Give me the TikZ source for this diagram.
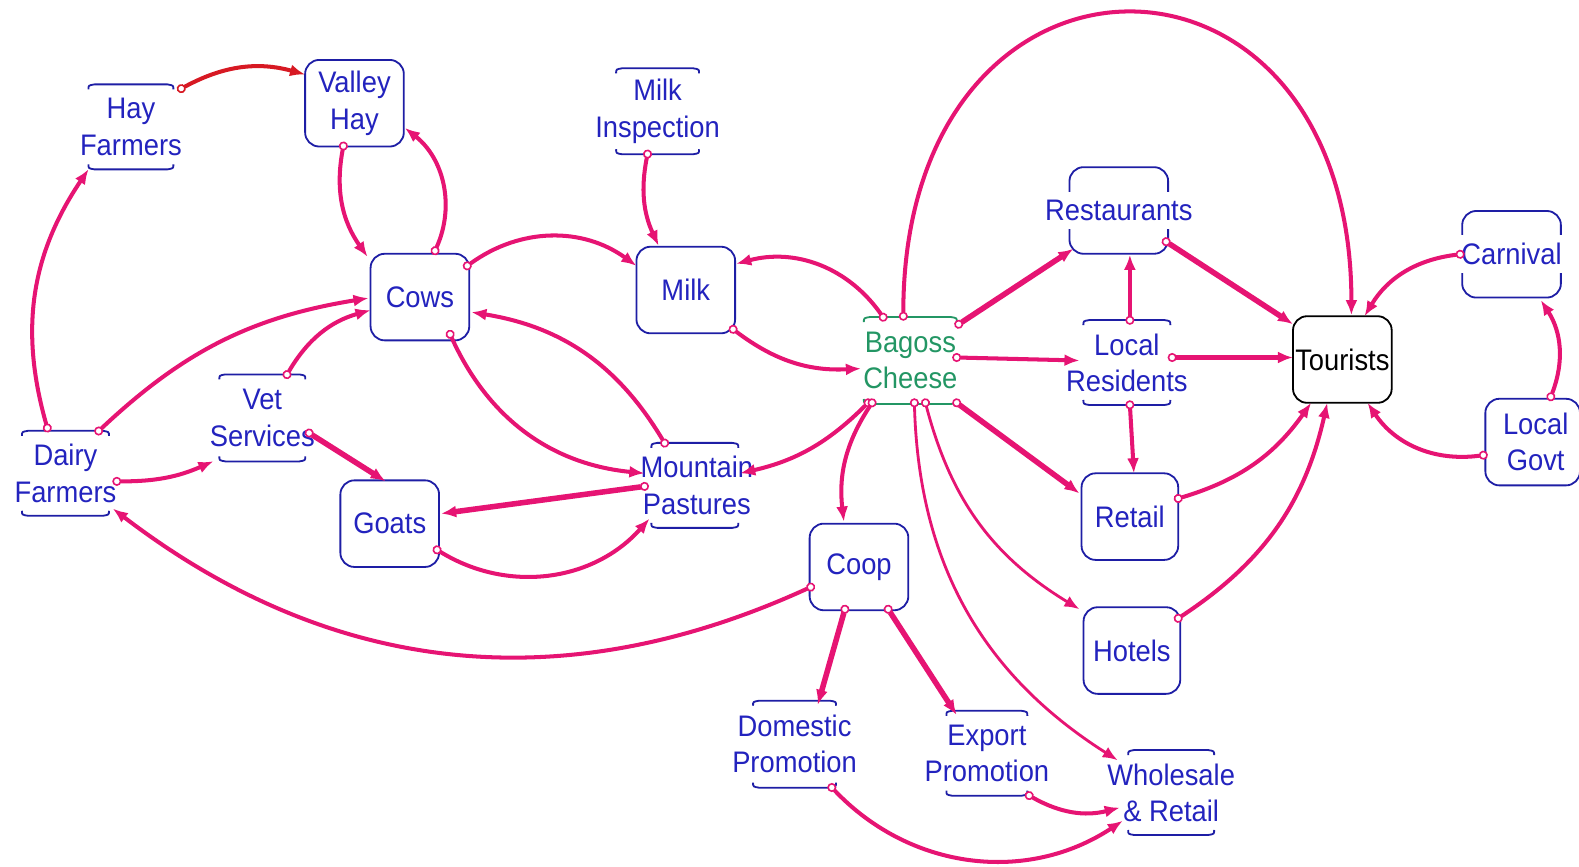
\documentclass[tikz,border=0pt]{standalone}
\usepackage{fontspec}
\setmainfont{Liberation Sans}[FakeStretch=0.92]
\usetikzlibrary{arrows.meta,calc}
\definecolor{nodeblue}{RGB}{30,30,165}
\definecolor{txtblue}{RGB}{35,35,190}
\definecolor{cheesegreen}{RGB}{35,150,100}
\definecolor{linkc}{RGB}{230,20,115}
\definecolor{linkred}{RGB}{215,25,35}
\newcommand\auxbrackets[2]{%
  \draw[#2, line width=1.8pt]
    ($(#1.north west)+(0,5)$) .. controls ($(#1.north west)+(0,1)$) .. ($(#1.north west)+(6,0)$)
    -- ($(#1.north east)+(-6,0)$) .. controls ($(#1.north east)+(0,1)$) .. ($(#1.north east)+(0,5)$);
  \draw[#2, line width=1.8pt]
    ($(#1.south west)+(0,-5)$) .. controls ($(#1.south west)+(0,-1)$) .. ($(#1.south west)+(6,0)$)
    -- ($(#1.south east)+(-6,0)$) .. controls ($(#1.south east)+(0,-1)$) .. ($(#1.south east)+(0,-5)$);
}
\tikzset{
  lbl/.style={font=\fontsize{29.5}{36}\selectfont, align=center, inner sep=0pt, text=txtblue},
  blank/.style={fill=white, inner xsep=1pt, inner ysep=8pt},
  stock/.style={draw=nodeblue, line width=1.8pt, rounded corners=14pt, minimum width=98pt, minimum height=86pt, inner sep=0pt},
  aux/.style={minimum width=86pt, minimum height=84pt, inner sep=0pt},
  conn/.style={draw=linkc, line width=4pt, shorten <=-4.5pt,
    {Circle[fill=white,length=9pt,width=9pt,line width=1.6pt]}-{Latex[length=15pt,width=12pt]}},
  heavy/.style={line width=5.5pt},
  light/.style={line width=2.8pt},
}
\begin{document}
\begin{tikzpicture}[x=1pt,y=-1pt]
\useasboundingbox (0,0) rectangle (1568,860);
% ---- nodes ----
\node[aux, minimum width=84pt] (hayf) at (130,126) {};
\node[stock] (vhay) at (352,102.5) {};
\node[aux, minimum width=82pt, minimum height=85pt] (milki) at (653,110.5) {};
\node[stock] (cows) at (417,295) {};
\node[stock] (milk) at (681,288) {};
\node[aux, minimum width=85pt, minimum height=86pt] (vet) at (260.5,415) {};
\node[aux] (dairy) at (65,470) {};
\node[stock] (goats) at (387,520) {};
\node[aux, minimum width=86pt] (mount) at (690,482) {};
\node[aux, minimum width=92pt, minimum height=86pt] (bc) at (904,358) {};
\node[stock] (coop) at (853,563) {};
\node[stock] (rest) at (1111,209) {};
\node[aux] (locr) at (1119,360) {};
\node[stock, minimum width=96pt] (retail) at (1122,513) {};
\node[stock, minimum width=96pt] (hotels) at (1124,646) {};
\node[stock, draw=black] (tour) at (1333,357) {};
\node[stock] (carn) at (1501,252.5) {};
\node[stock, minimum width=94pt] (govt) at (1522,439) {};
\node[aux, minimum width=82pt, minimum height=86pt] (domp) at (789,739) {};
\node[aux, minimum width=80pt] (expp) at (980,748) {};
\node[aux, minimum width=85pt] (whr) at (1163,787) {};
% brackets of auxiliaries
\auxbrackets{hayf}{nodeblue}
\auxbrackets{milki}{nodeblue}
\auxbrackets{vet}{nodeblue}
\auxbrackets{dairy}{nodeblue}
\auxbrackets{mount}{nodeblue}
\auxbrackets{bc}{cheesegreen}
\auxbrackets{locr}{nodeblue}
\auxbrackets{domp}{nodeblue}
\auxbrackets{expp}{nodeblue}
\auxbrackets{whr}{nodeblue}
% ---- texts ----
\node[lbl] (hayf-t) at (hayf) {Hay\\Farmers};
\node[lbl, blank] (vhay-t) at (vhay) {Valley\\Hay};
\node[lbl] (milki-t) at (milki) {Milk\\Inspection};
\node[lbl, blank] (cows-t) at (cows) {Cows};
\node[lbl, blank] (milk-t) at (milk) {Milk};
\node[lbl] (vet-t) at (vet) {Vet\\Services};
\node[lbl] (dairy-t) at (dairy) {Dairy\\Farmers};
\node[lbl, blank] (goats-t) at (goats) {Goats};
\node[lbl] (mount-t) at (692,482) {Mountain\\Pastures};
\node[lbl, text=cheesegreen] (bc-t) at (bc) {Bagoss\\Cheese};
\node[lbl, blank] (coop-t) at (coop) {Coop};
\node[lbl, blank] (rest-t) at (rest) {Restaurants};
\node[lbl] (locr-t) at (locr) {Local\\Residents};
\node[lbl, blank] (retail-t) at (retail) {Retail};
\node[lbl, blank] (hotels-t) at (hotels) {Hotels};
\node[lbl, blank, text=black] (tour-t) at (tour) {Tourists};
\node[lbl, blank] (carn-t) at (carn) {Carnival};
\node[lbl, blank] (govt-t) at (1525,439) {Local\\Govt};
\node[lbl] (domp-t) at (domp) {Domestic\\Promotion};
\node[lbl] (expp-t) at (expp) {Export\\Promotion};
\node[lbl] (whr-t) at (whr) {Wholesale\\\& Retail};
% ---- connectors ----
\draw[conn, draw=linkred] ($(hayf)+(50,-38)$) to[bend left=22] ($(vhay)+(-49,-28.5)$);
\draw[conn] ($(vhay)+(-11,42.5)$) to[bend right=23] ($(cows)+(-52,-40)$);
\draw[conn] ($(cows)+(15,-46)$) to[bend right=38] ($(vhay)+(50,24.5)$);
\draw[conn] ($(dairy)+(-18,-45)$) to[bend left=25] ($(hayf)+(-42,42)$);
\draw[conn] ($(dairy)+(33,-42)$) to[bend left=17] ($(cows)+(-51,1)$);
\draw[conn] ($(vet)+(24.5,-43)$) to[bend left=22] ($(cows)+(-49,13)$);
\draw[conn, heavy] ($(vet)+(46.5,15)$) -- ($(goats)+(-4,-42)$);
\draw[conn] ($(dairy)+(51,8)$) to[bend right=12] ($(vet)+(-48.5,43)$);
\draw[conn] ($(coop)+(-48,20)$) to[bend left=31] ($(dairy)+(47,35)$);
\draw[conn] ($(cows)+(47,-31)$) to[bend left=36] ($(milk)+(-49,-24)$);
\draw[conn] ($(milki)+(-10,42.5)$) to[bend right=18] ($(milk)+(-27,-44)$);
\draw[conn] ($(bc)+(-27,-43)$) to[bend right=35] ($(milk)+(50,-26)$);
\draw[conn] ($(milk)+(47,39)$) to[bend right=20] ($(bc)+(-49,8)$);
\draw[conn] ($(cows)+(30,37)$) to[bend right=30] ($(mount)+(-50,-12)$);
\draw[conn] ($(mount)+(-30,-42)$) to[bend right=25] ($(cows)+(51,15)$);
\draw[conn, heavy] ($(mount)+(-50,1)$) -- ($(goats)+(51,-10)$);
\draw[conn] ($(goats)+(47,26)$) to[bend right=40] ($(mount)+(-45,33)$);
\draw[conn] ($(bc)+(-42,42)$) to[bend left=16] ($(mount)+(45,-12)$);
\draw[conn] ($(bc)+(-38,42)$) to[bend right=20] ($(coop)+(-15,-45)$);
\draw[conn, heavy] ($(coop)+(-14,42)$) -- ($(domp)+(23,-39)$);
\draw[conn, heavy] ($(coop)+(29,42)$) -- ($(expp)+(-30,-38)$);
\draw[conn] ($(domp)+(37,43)$) to[bend right=40] ($(whr)+(-48,28)$);
\draw[conn] ($(expp)+(42,42)$) to[bend right=22] ($(whr)+(-51,15)$);
\draw[conn, light] ($(bc)+(4,42)$) to[bend right=28] ($(whr)+(-53,-32)$);
\draw[conn, light] ($(bc)+(15,42)$) to[bend right=22] ($(hotels)+(-52,-41)$);
\draw[conn, heavy] ($(bc)+(46,42)$) -- ($(retail)+(-50,-23)$);
\draw[conn, heavy] ($(bc)+(48,-36)$) -- ($(rest)+(-45,38)$);
\draw[conn] ($(bc)+(46,-3)$) -- ($(locr)+(-47,-2)$);
\draw[conn] ($(bc)+(-7,-44)$) .. controls ($(bc)+(-7,-444)$) and ($(tour)+(9,-444)$) .. ($(tour)+(9,-44)$);
\draw[conn] ($(locr)+(3,-42)$) -- ($(rest)+(11,44)$);
\draw[conn] ($(locr)+(3,42)$) -- ($(retail)+(4,-43)$);
\draw[conn] ($(locr)+(45,-5)$) -- ($(tour)+(-49,-2)$);
\draw[conn, heavy] ($(rest)+(47,31)$) -- ($(tour)+(-49,-35)$);
\draw[conn] ($(retail)+(48,-18)$) to[bend right=19] ($(tour)+(-31,43)$);
\draw[conn] ($(hotels)+(46,-32)$) to[bend right=22] ($(tour)+(-15,43)$);
\draw[conn] ($(carn)+(-51,0)$) to[bend right=26] ($(tour)+(22,-43)$);
\draw[conn] ($(govt)+(-49,13)$) to[bend left=32] ($(tour)+(25,43)$);
\draw[conn] ($(govt)+(18,-45)$) to[bend right=27] ($(carn)+(29,45.5)$);
\end{tikzpicture}
\end{document}
